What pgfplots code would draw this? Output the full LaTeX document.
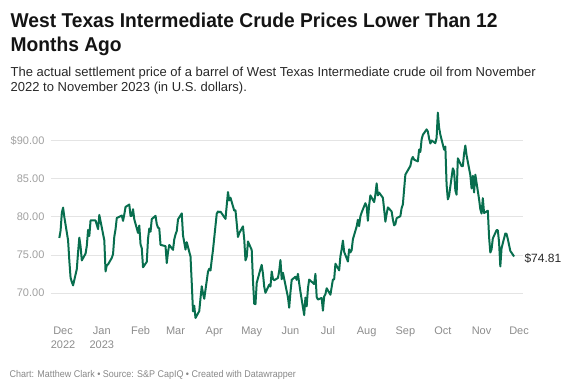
\documentclass[border=0pt]{standalone}
\usepackage{pgfplots}
\pgfplotsset{compat=1.18}
\usepackage{fontspec}
\setmainfont{Liberation Sans}
\newfontfamily\titlefont[FakeStretch=0.96]{Liberation Sans}
\newfontfamily\footfont[FakeStretch=0.92]{Liberation Sans}
\definecolor{linegreen}{RGB}{8,110,78}
\definecolor{gridgray}{RGB}{228,228,228}
\definecolor{ticktxt}{RGB}{160,160,160}
\definecolor{xtxt}{RGB}{140,140,140}
\definecolor{subtxt}{RGB}{40,40,40}
\definecolor{foottxt}{RGB}{135,135,135}
\begin{document}
\begin{tikzpicture}[x=1pt,y=1pt]
\path[use as bounding box] (0,0) rectangle (575,390);
\node[anchor=base west, inner sep=0pt, font=\titlefont\fontsize{20}{24}\selectfont\bfseries, text=black!92] at (10.5,362.3) {West Texas Intermediate Crude Prices Lower Than 12};
\node[anchor=base west, inner sep=0pt, font=\titlefont\fontsize{20}{24}\selectfont\bfseries, text=black!92] at (10.5,338.3) {Months Ago};
\node[anchor=base west, inner sep=0pt, font=\fontsize{13}{16}\selectfont, text=subtxt] at (10.5,313.7) {The actual settlement price of a barrel of West Texas Intermediate crude oil from November};
\node[anchor=base west, inner sep=0pt, font=\fontsize{13}{16}\selectfont, text=subtxt] at (10.5,298) {2022 to November 2023 (in U.S. dollars).};
\node[anchor=base west, inner sep=0pt, font=\footfont\fontsize{9.75}{12}\selectfont, text=foottxt] at (9.5,12.3) {Chart: Matthew Clark • Source: S\&P CapIQ • Created with Datawrapper};
\begin{axis}[
  at={(40.5,87.1)}, anchor=south west,
  scale only axis, width=472.2pt, height=213.4pt,
  xmin=-10, xmax=368, ymin=66, ymax=94,
  axis line style={draw=none},
  major tick length=0pt,
  ytick={70,75,80,85,90},
  yticklabels={70.00,75.00,80.00,85.00,\$90.00},
  ymajorgrids, grid style={color=gridgray, line width=1pt},
  xtick={0,31,62,90,121,151,182,212,243,274,304,335,365},
  xticklabels={{Dec\\2022},{Jan\\2023},Feb,Mar,Apr,May,Jun,Jul,Aug,Sep,Oct,Nov,Dec},
  xticklabel style={font=\fontsize{11}{14.4}\selectfont, text=xtxt, align=center, anchor=north, inner sep=0pt, yshift=-3pt},
  yticklabel style={font=\fontsize{11}{13}\selectfont, text=ticktxt, anchor=east, inner sep=0pt, xshift=-6pt},
  clip=false,
]
\addplot[linegreen, line width=2pt, line join=round, mark=none] coordinates {
(-3,77.24) (-2,78.20) (-1,80.55) (0,81.22) (1,79.98) (4,76.93) (5,74.25) (6,72.01) (7,71.46) (8,71.02)
(11,73.17) (12,75.39) (13,77.28) (14,76.11) (15,74.29) (18,75.19) (19,76.23) (20,78.29) (21,77.49) (22,79.56)
(26,79.53) (27,78.96) (28,78.40) (29,80.26) (33,76.93) (34,72.84) (35,73.67) (36,73.77) (39,74.63) (40,75.12)
(41,77.41) (42,78.39) (43,79.86) (47,80.18) (48,79.48) (49,80.33) (50,81.31) (53,81.62) (54,80.13) (55,80.15)
(56,81.01) (57,79.68) (60,77.90) (61,78.87) (62,76.41) (63,75.88) (64,73.39) (67,74.11) (68,77.14) (69,78.47)
(70,78.06) (71,79.72) (74,80.14) (75,79.06) (76,78.59) (77,78.49) (78,76.34) (82,76.16) (83,73.95) (84,75.39)
(85,76.32) (88,75.68) (89,77.05) (90,77.69) (91,78.16) (92,79.68) (95,80.46) (96,77.58) (97,76.66) (98,75.72)
(99,76.68) (102,74.80) (103,71.33) (104,67.61) (105,68.35) (106,66.74) (109,67.64) (110,69.33) (111,70.90) (112,69.96)
(113,69.26) (116,72.81) (117,73.20) (118,72.97) (119,74.37) (120,75.67) (123,80.42) (124,80.71) (125,80.61) (126,80.70)
(130,79.74) (131,81.53) (132,83.26) (133,82.16) (134,82.52) (137,80.83) (138,80.86) (139,79.16) (140,77.37) (141,77.87)
(144,78.76) (145,77.07) (146,74.30) (147,74.76) (148,76.78) (151,75.66) (152,71.66) (153,68.60) (154,68.56) (155,71.34)
(158,73.16) (159,73.71) (160,72.56) (161,70.87) (162,70.04) (165,71.11) (166,70.86) (167,72.83) (168,71.86) (169,71.69)
(172,71.99) (173,72.91) (174,74.34) (175,71.83) (176,72.67) (180,69.46) (181,68.09) (182,70.10) (183,71.74) (186,72.15)
(187,71.74) (188,72.53) (189,71.29) (190,70.17) (193,67.12) (194,69.42) (195,68.27) (196,70.62) (197,71.78) (201,71.19)
(202,72.53) (203,69.51) (204,69.16) (207,69.37) (208,67.70) (209,69.56) (210,69.86) (211,70.64) (214,69.79) (216,71.79)
(217,71.80) (218,73.86) (221,72.99) (222,74.83) (223,75.75) (224,76.89) (225,75.42) (228,74.15) (229,75.75) (230,75.35)
(231,75.63) (232,77.07) (235,78.74) (236,79.63) (237,78.78) (238,80.09) (239,80.58) (242,81.80) (243,81.37) (244,79.49)
(245,81.55) (246,82.82) (249,81.94) (250,82.92) (251,84.40) (252,82.82) (253,83.19) (256,82.51) (257,80.99) (258,79.38)
(259,80.39) (260,81.25) (263,80.72) (264,79.64) (265,78.89) (266,79.05) (267,79.83) (270,80.10) (271,81.16) (272,81.63)
(273,83.63) (274,85.55) (278,86.69) (279,87.54) (280,87.87) (281,87.51) (284,87.29) (285,88.84) (286,88.52) (287,90.16)
(288,90.77) (291,91.48) (292,91.20) (293,90.28) (294,89.63) (295,90.03) (298,89.68) (299,90.39) (300,93.68) (301,91.71)
(302,90.79) (305,88.82) (306,89.23) (307,84.22) (308,82.31) (309,82.79) (312,86.38) (313,85.97) (314,83.49) (315,82.91)
(316,87.69) (319,86.66) (320,86.66) (321,88.32) (322,89.37) (323,88.08) (326,85.49) (327,83.74) (328,85.39) (329,83.21)
(330,85.54) (333,82.31) (334,81.02) (335,80.44) (336,82.46) (337,80.51) (340,80.82) (341,77.37) (342,75.33) (343,75.74)
(344,77.17) (347,78.26) (348,78.26) (349,76.66) (350,73.50) (351,75.89) (354,77.83) (355,77.77) (356,77.10) (358,75.54)
(361,74.81)
} node[pos=1, anchor=west, inner sep=0pt, xshift=9.5pt, yshift=-2pt, font=\fontsize{12}{14}\selectfont, text=subtxt] {\$74.81};
\end{axis}
\end{tikzpicture}
\end{document}
